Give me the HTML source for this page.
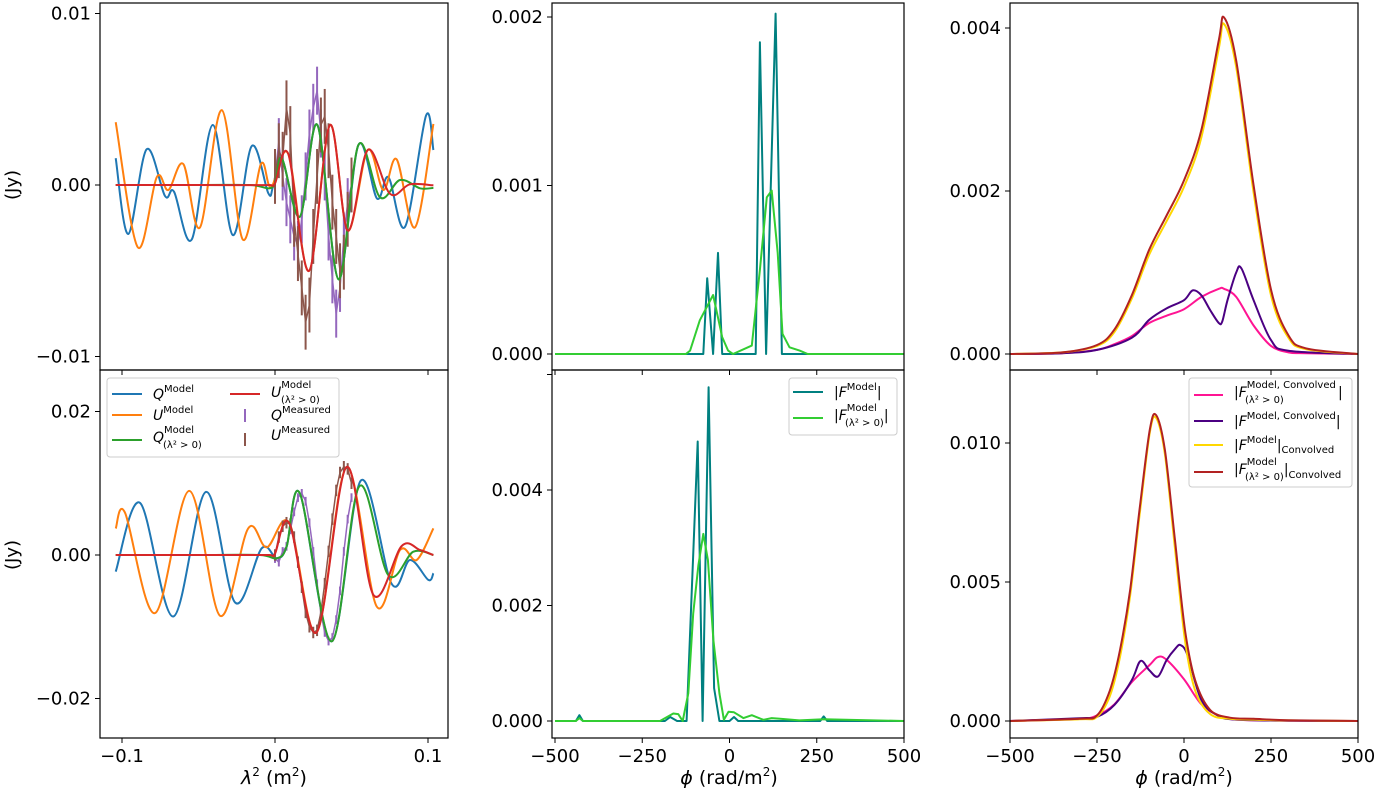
<!DOCTYPE html>
<html><head><meta charset="utf-8"><style>
body{margin:0;background:#fff;}
svg{display:block;font-family:"DejaVu Sans","Liberation Sans",sans-serif;}
</style></head><body>
<svg id="fig" width="1378" height="797" viewBox="0 0 1378 797" xmlns="http://www.w3.org/2000/svg"></svg>
<script>
// ---------- data (values in units of 1e-3 Jy) ----------
const tlQx=[-0.1041,-0.0959,-0.0839,-0.0719,-0.0660,-0.0544,-0.0407,-0.0276,-0.0152,-0.0044,-0.0013,0.0044,0.0163,0.0277,0.0415,0.0545,0.0666,0.0742,0.0850,0.0987,0.1035];
const tlQy=[1.56,-2.86,2.08,-0.64,-0.39,-3.17,3.50,-2.92,2.27,-0.48,-0.10,1.56,-1.84,3.50,-5.50,2.33,-0.78,0.45,-2.43,4.04,2.04];
const tlQ0x=[-0.1041,-0.05,-0.016,-0.0013,0.0044,0.0163,0.0277,0.0415,0.0545,0.0686,0.0817,0.0948,0.1035];
const tlQ0y=[0,0,0,-0.1,1.56,-1.84,3.50,-5.50,2.33,-0.72,0.29,-0.19,-0.17];
const tlUx=[-0.1041,-0.0897,-0.0773,-0.0697,-0.0599,-0.049,-0.0348,-0.0211,-0.0092,-0.0026,0.0087,0.0222,0.0359,0.0475,0.0606,0.0708,0.0795,0.0915,0.1035];
const tlUy=[3.66,-3.63,0.45,-0.29,1.22,-2.47,4.37,-3.17,1.22,-0.13,1.81,-5.01,3.5,-2.66,2.04,-0.29,1.5,-2.47,3.56];
const tlU0x=[-0.1041,-0.05,-0.004,0.0,0.0087,0.0222,0.0359,0.0475,0.0606,0.0752,0.0882,0.1035];
const tlU0y=[0,0,0,0.1,1.81,-5.01,3.5,-2.66,2.04,-0.52,0.04,-0.02];
const measX=[0,0.0025,0.005,0.0075,0.01,0.0125,0.015,0.0175,0.02,0.0225,0.025,0.0275,0.03,0.0325,0.035,0.0375,0.04,0.0425,0.045,0.0475,0.05];
const tlQm=[0.5,2.5,0.5,-1,-2,-3,-3.5,-2,0.5,3,4.5,5.5,3,0.5,-3,-5.5,-7.5,-6,-3,-1,0];
const tlUm=[0.5,2.0,1.5,4.5,3.0,-2,-4,-6,-8,-7,-3,0.5,3.5,4,2,-1,-3,-5,-4.5,-2,0];
const blQx=[-0.1041,-0.0882,-0.0665,-0.0451,-0.0261,-0.0087,0.0011,0.0076,0.0163,0.037,0.0562,0.0763,0.0882,0.1002,0.1035];
const blQy=[-2.32,7.26,-8.57,8.79,-6.62,0.93,-0.46,1.15,8.57,-12.04,10.4,-4.03,-0.69,-3.47,-2.54];
const blQ0x=[-0.1041,-0.05,-0.01,0.0011,0.0076,0.0163,0.037,0.0551,0.074,0.0904,0.1035];
const blQ0y=[0,0,0,-0.46,1.15,8.57,-12.04,9.58,-2.78,0.46,0];
const blUx=[-0.1041,-0.098,-0.0784,-0.056,-0.0359,-0.0175,-0.0054,0.0094,0.0272,0.0468,0.0665,0.0817,0.0926,0.1035];
const blUy=[3.7,5.87,-8.1,8.93,-8.47,3.71,1.07,4.4,-10.79,12.26,-7.18,0.69,-0.69,3.71];
const blU0x=[-0.1041,-0.05,-0.004,0.0,0.0094,0.0272,0.0468,0.0643,0.0828,0.0948,0.1035];
const blU0y=[0,0,0,0.2,4.4,-10.79,12.26,-5.56,1.25,0.69,0];
const blQm=[-0.5,-1.0,0.5,1.2,3.5,6,8,8.6,7.5,4.5,0.5,-4,-8,-10.8,-12,-11.5,-9,-5,0.5,5,8];
const blUm=[0,2.5,4.0,4.5,4.3,2.5,-1,-4.5,-8,-10,-10.8,-10.5,-8,-4,0.5,5,9,11.5,12.3,12,10];
const tmFx=[-500,-75,-64,-47,-33,-21,75,87,105,132,150,500];
const tmFy=[0,0,0.45,0,0.6,0,0,1.85,0,2.02,0,0];
const tmF0x=[-500,-125,-113,-85,-47,-21,-4,10,64,87,107,121,138,152,172,201,224,500];
const tmF0y=[0,0,0.02,0.2,0.35,0.1,0.02,0,0.05,0.5,0.93,0.97,0.6,0.12,0.04,0.02,0,0];
const bmFx=[-500,-440,-430,-420,-185,-170,-150,-123,-91,-77,-60,-44,-29,0,13,25,260,270,280,500];
const bmFy=[0,0,0.1,0,0,0.07,0,0,4.84,0,5.78,0.57,0,0,0.07,0,0,0.08,0,0];
const bmF0x=[-500,-440,-430,-420,-250,-199,-161,-147,-134,-118,-104,-89,-75,-62,-46,-29,-16,-3,13,40,64,97,121,145,200,270,500];
const bmF0y=[0,0,0.05,0,0,0,0.13,0.12,0,0.48,1.86,2.7,3.24,2.79,1.4,0.48,0.02,0.16,0.15,0.05,0.1,0.02,0.05,0.04,0.01,0.03,0];
const crX=[-500,-350,-250,-200,-150,-100,-50,0,50,100,115,150,200,250,300,350,500];
const trRed=[0,0.02,0.11,0.3,0.72,1.28,1.7,2.13,2.75,3.85,4.13,3.6,2.07,0.79,0.23,0.07,0];
const trYel=[0,0.02,0.1,0.27,0.68,1.22,1.63,2.05,2.66,3.75,4.05,3.52,1.98,0.72,0.2,0.06,0];
const trIndX=[-500,-350,-250,-150,-100,-50,0,25,50,75,100,110,125,150,165,200,250,300,500];
const trInd=[0,0.01,0.05,0.2,0.42,0.56,0.66,0.78,0.72,0.54,0.38,0.4,0.66,1.0,1.05,0.66,0.17,0.04,0];
const trPink=[0,0.01,0.05,0.12,0.22,0.38,0.47,0.55,0.7,0.8,0.8,0.7,0.35,0.1,0.02,0.01,0];
const brX=[-500,-300,-250,-213,-184,-155,-126,-98,-80,-55,-26,3,32,75,132,200,300,500];
const brRed=[0,0.08,0.2,1.1,2.55,4.7,7.8,10.5,11.0,9.75,6.5,3.27,1.47,0.4,0.12,0.08,0.03,0];
const brYel=[0,0.06,0.15,0.9,2.3,4.5,7.6,10.4,10.9,9.6,6.2,2.9,1.1,0.25,0.08,0.05,0.02,0];
const brIndX=[-500,-300,-250,-200,-150,-125,-100,-75,-50,-25,-10,10,50,100,150,300,500];
const brInd=[0,0.1,0.15,0.58,1.47,2.16,1.83,1.6,2.19,2.6,2.73,2.37,0.75,0.18,0.05,0.01,0];
const brPinkX=[-500,-300,-250,-200,-150,-100,-75,-50,0,50,100,150,300,500];
const brPink=[0,0.08,0.2,0.6,1.4,2.0,2.3,2.2,1.5,0.6,0.2,0.05,0.01,0];

// ---------- drawing ----------
const NS="http://www.w3.org/2000/svg";
const fig=document.getElementById('fig');
function mk(tag,attrs,parent){const e=document.createElementNS(NS,tag);for(const k in attrs)e.setAttribute(k,attrs[k]);(parent||fig).appendChild(e);return e;}
function smoothPath(pts){
  let d='M'+pts[0][0].toFixed(1)+','+pts[0][1].toFixed(1);
  for(let i=0;i<pts.length-1;i++){
    const p0=pts[Math.max(0,i-1)],p1=pts[i],p2=pts[i+1],p3=pts[Math.min(pts.length-1,i+2)];
    const c1=[p1[0]+(p2[0]-p0[0])/6,p1[1]+(p2[1]-p0[1])/6];
    const c2=[p2[0]-(p3[0]-p1[0])/6,p2[1]-(p3[1]-p1[1])/6];
    c1[0]=Math.min(Math.max(c1[0],p1[0]),p2[0]);c2[0]=Math.min(Math.max(c2[0],p1[0]),p2[0]);
    d+=' C'+c1[0].toFixed(1)+','+c1[1].toFixed(1)+' '+c2[0].toFixed(1)+','+c2[1].toFixed(1)+' '+p2[0].toFixed(1)+','+p2[1].toFixed(1);
  }
  return d;
}
function linePath(pts){return 'M'+pts.map(p=>p[0].toFixed(1)+','+p[1].toFixed(1)).join(' L');}
function series(xs,ys,sx,sy,color,name,smooth,w){
  const pts=xs.map((x,i)=>[sx(x),sy(ys[i])]);
  const p=mk('path',{d:smooth?smoothPath(pts):linePath(pts),fill:'none',stroke:color,'stroke-width':w||2,'stroke-linejoin':'round'});
  
  
}
function measured(xs,ys,err,sx,sy,color,name){
  const g=mk('g',{});
  
  
  xs.forEach((x,i)=>{
    const l=mk('line',{x1:sx(x),x2:sx(x),y1:sy(ys[i]-err),y2:sy(ys[i]+err),stroke:color,'stroke-width':2},g);
    
    
  });
  const pts=xs.map((x,i)=>[sx(x),sy(ys[i])]);
  mk('path',{d:linePath(pts),fill:'none',stroke:color,'stroke-width':1.5},g);
}
function frame(x0,x1,y0,y1,name){
  const r=mk('rect',{x:x0,y:y0,width:x1-x0,height:y1-y0,fill:'none',stroke:'#000','stroke-width':1.2});
  
  
}
function yticks(x0,vals,labels,sy,name){
  vals.forEach((v,i)=>{
    const y=sy(v);
    mk('line',{x1:x0-5,x2:x0,y1:y,y2:y,stroke:'#000','stroke-width':1});
    const t=mk('text',{x:x0-9,y:y+6,'text-anchor':'end','font-size':18});
    t.textContent=labels[i];
    
    
  });
}
function xticks(yb,vals,labels,sx,name,showLabels){
  vals.forEach((v,i)=>{
    const x=sx(v);
    mk('line',{x1:x,x2:x,y1:yb,y2:yb+5,stroke:'#000','stroke-width':1});
    if(showLabels){
      const t=mk('text',{x:x,y:yb+24,'text-anchor':'middle','font-size':18});
      t.textContent=labels[i];
      
      
    }
  });
}
function clip(id,x0,x1,y0,y1){const c=mk('clipPath',{id:id});mk('rect',{x:x0,y:y0,width:x1-x0,height:y1-y0},c);}
function drawIn(gg,fn){const before=fig.childNodes.length;fn();const nodes=[...fig.childNodes].slice(before);nodes.forEach(n=>gg.appendChild(n));}

const sxL=x=>275+1530*x, syTL=v=>185-17.15*v, syBL=v=>555-7.175*v;
const sxM=p=>729.5+0.349*p, syTM=v=>354-168.5*v, syBM=v=>721-57.75*v;
const sxR=p=>1184+0.348*p, syTR=v=>354-81.5*v, syBR=v=>721-27.8*v;

const C={b:'#1f77b4',o:'#ff7f0e',g:'#2ca02c',r:'#d62728',p:'#9467bd',br:'#8c564b',teal:'#008080',lime:'#32cd32',pink:'#ff1493',ind:'#4b0082',gold:'#ffd700',fire:'#b22222'};

clip('c1',100,448,3,370);
let g=mk('g',{'clip-path':'url(#c1)'});


drawIn(g,()=>{
  series(tlQx,tlQy,sxL,syTL,C.b,'q-model-line',true);
  series(tlUx,tlUy,sxL,syTL,C.o,'u-model-line',true);
  measured(measX,tlQm,1.4,sxL,syTL,C.p,'q-measured');
  measured(measX,tlUm,1.6,sxL,syTL,C.br,'u-measured');
  series(tlQ0x,tlQ0y,sxL,syTL,C.g,'q-positive-line',true);
  series(tlU0x,tlU0y,sxL,syTL,C.r,'u-positive-line',true);
});
frame(100,448,3,370,'axes-top-left');
yticks(100,[10,0,-10],['0.01','0.00','\u22120.01'],syTL,'y-tick-label');
xticks(370,[-0.1,0,0.1],[],sxL,'x-tick',false);

clip('c2',100,448,370,738);
g=mk('g',{'clip-path':'url(#c2)'});


drawIn(g,()=>{
  series(blQx,blQy,sxL,syBL,C.b,'q-model-line',true);
  series(blUx,blUy,sxL,syBL,C.o,'u-model-line',true);
  measured(measX,blQm,0.6,sxL,syBL,C.p,'q-measured');
  measured(measX,blUm,0.8,sxL,syBL,C.br,'u-measured');
  series(blQ0x,blQ0y,sxL,syBL,C.g,'q-positive-line',true);
  series(blU0x,blU0y,sxL,syBL,C.r,'u-positive-line',true);
});
frame(100,448,370,738,'axes-bottom-left');
yticks(100,[20,0,-20],['0.02','0.00','\u22120.02'],syBL,'y-tick-label');
xticks(738,[-0.1,0,0.1],['\u22120.1','0.0','0.1'],sxL,'x-tick-label',true);

clip('c3',552,904,3,370);
g=mk('g',{'clip-path':'url(#c3)'});


drawIn(g,()=>{
  series(tmFx,tmFy,sxM,syTM,C.teal,'f-model-line',false);
  series(tmF0x,tmF0y,sxM,syTM,C.lime,'f-positive-line',false);
});
frame(552,904,3,370,'axes-top-middle');
yticks(552,[0,1,2],['0.000','0.001','0.002'],syTM,'y-tick-label');
xticks(370,[-500,-250,0,250,500],[],sxM,'x-tick',false);

clip('c4',552,904,370,738);
g=mk('g',{'clip-path':'url(#c4)'});


drawIn(g,()=>{
  series(bmFx,bmFy,sxM,syBM,C.teal,'f-model-line',false);
  series(bmF0x,bmF0y,sxM,syBM,C.lime,'f-positive-line',false);
});
frame(552,904,370,738,'axes-bottom-middle');
yticks(552,[0,2,4,6],['0.000','0.002','0.004',''],syBM,'y-tick-label');
xticks(738,[-500,-250,0,250,500],['\u2212500','\u2212250','0','250','500'],sxM,'x-tick-label',true);

clip('c5',1010,1358,3,370);
g=mk('g',{'clip-path':'url(#c5)'});


drawIn(g,()=>{
  series(crX,trPink,sxR,syTR,C.pink,'f-positive-convolved-line',true);
  series(trIndX,trInd,sxR,syTR,C.ind,'f-model-convolved-line',true);
  series(crX,trYel,sxR,syTR,C.gold,'f-model-then-convolved-line',true);
  series(crX,trRed,sxR,syTR,C.fire,'f-positive-then-convolved-line',true);
});
frame(1010,1358,3,370,'axes-top-right');
yticks(1010,[0,2,4],['0.000','0.002','0.004'],syTR,'y-tick-label');
xticks(370,[-500,-250,0,250,500],[],sxR,'x-tick',false);

clip('c6',1010,1358,370,738);
g=mk('g',{'clip-path':'url(#c6)'});


drawIn(g,()=>{
  series(brPinkX,brPink,sxR,syBR,C.pink,'f-positive-convolved-line',true);
  series(brIndX,brInd,sxR,syBR,C.ind,'f-model-convolved-line',true);
  series(brX,brYel,sxR,syBR,C.gold,'f-model-then-convolved-line',true);
  series(brX,brRed,sxR,syBR,C.fire,'f-positive-then-convolved-line',true);
});
frame(1010,1358,370,738,'axes-bottom-right');
yticks(1010,[0,5,10],['0.000','0.005','0.010'],syBR,'y-tick-label');
xticks(738,[-500,-250,0,250,500],['\u2212500','\u2212250','0','250','500'],sxR,'x-tick-label',true);
</script>
<svg style="position:absolute;left:0;top:0" width="1378" height="797" xmlns="http://www.w3.org/2000/svg" font-family="DejaVu Sans, Liberation Sans, sans-serif">
  <text x="18" y="185" font-size="18" text-anchor="middle" transform="rotate(-90 18 185)">(Jy)</text>
  <text x="18" y="555" font-size="18" text-anchor="middle" transform="rotate(-90 18 555)">(Jy)</text>
  <text x="274" y="784" font-size="19" text-anchor="middle"><tspan font-style="italic">λ</tspan><tspan font-size="12" dy="-8">2</tspan><tspan dy="8"> (m</tspan><tspan font-size="12" dy="-8">2</tspan><tspan dy="8">)</tspan></text>
  <text x="729" y="784" font-size="19" text-anchor="middle"><tspan font-style="italic">ϕ</tspan> (rad/m<tspan font-size="12" dy="-8">2</tspan><tspan dy="8">)</tspan></text>
  <text x="1184" y="784" font-size="19" text-anchor="middle"><tspan font-style="italic">ϕ</tspan> (rad/m<tspan font-size="12" dy="-8">2</tspan><tspan dy="8">)</tspan></text>

  <g font-size="14">
    <rect x="107" y="378" width="232" height="79" rx="3" fill="#fff" fill-opacity="0.85" stroke="#ccc"/>
    <g><line x1="112" x2="142" y1="394" y2="394" stroke="#1f77b4" stroke-width="2"/><text x="153" y="399"><tspan font-style="italic">Q</tspan><tspan font-size="10" dy="-7">Model</tspan></text></g>
    <g><line x1="112" x2="142" y1="415" y2="415" stroke="#ff7f0e" stroke-width="2"/><text x="153" y="420"><tspan font-style="italic">U</tspan><tspan font-size="10" dy="-7">Model</tspan></text></g>
    <g><line x1="112" x2="142" y1="440" y2="440" stroke="#2ca02c" stroke-width="2"/><text x="153" y="442"><tspan font-style="italic">Q</tspan><tspan font-size="10" dy="-9">Model</tspan><tspan font-size="10" x="163" dy="15">(λ² &gt; 0)</tspan></text></g>
    <g><line x1="230" x2="260" y1="394" y2="394" stroke="#d62728" stroke-width="2"/><text x="271" y="397"><tspan font-style="italic">U</tspan><tspan font-size="10" dy="-9">Model</tspan><tspan font-size="10" x="281" dy="15">(λ² &gt; 0)</tspan></text></g>
    <g><line x1="245" x2="245" y1="409" y2="422" stroke="#9467bd" stroke-width="2"/><text x="271" y="420"><tspan font-style="italic">Q</tspan><tspan font-size="10" dy="-7">Measured</tspan></text></g>
    <g><line x1="245" x2="245" y1="433" y2="446" stroke="#8c564b" stroke-width="2"/><text x="271" y="440"><tspan font-style="italic">U</tspan><tspan font-size="10" dy="-7">Measured</tspan></text></g>
  </g>

  <g font-size="14">
    <rect x="789" y="378" width="108" height="57" rx="3" fill="#fff" fill-opacity="0.85" stroke="#ccc"/>
    <g><line x1="793" x2="823" y1="392" y2="392" stroke="#008080" stroke-width="2"/><text x="834" y="397">|<tspan font-style="italic">F</tspan><tspan font-size="10" dy="-7">Model</tspan><tspan dy="7">|</tspan></text></g>
    <g><line x1="793" x2="823" y1="418" y2="418" stroke="#32cd32" stroke-width="2"/><text x="834" y="420">|<tspan font-style="italic">F</tspan><tspan font-size="10" dy="-9">Model</tspan><tspan font-size="10" x="845" dy="15">(λ² &gt; 0)</tspan><tspan dy="-6">|</tspan></text></g>
  </g>

  <g font-size="14">
    <rect x="1189" y="378" width="163" height="109" rx="3" fill="#fff" fill-opacity="0.85" stroke="#ccc"/>
    <g><line x1="1194" x2="1223" y1="395" y2="395" stroke="#ff1493" stroke-width="2"/><text x="1234" y="397">|<tspan font-style="italic">F</tspan><tspan font-size="10" dy="-9">Model, Convolved</tspan><tspan font-size="10" x="1245" dy="15">(λ² &gt; 0)</tspan><tspan x="1338" dy="-6">|</tspan></text></g>
    <g><line x1="1194" x2="1223" y1="421" y2="421" stroke="#4b0082" stroke-width="2"/><text x="1234" y="426">|<tspan font-style="italic">F</tspan><tspan font-size="10" dy="-7">Model, Convolved</tspan><tspan dy="7">|</tspan></text></g>
    <g><line x1="1194" x2="1223" y1="445" y2="445" stroke="#ffd700" stroke-width="2"/><text x="1234" y="450">|<tspan font-style="italic">F</tspan><tspan font-size="10" dy="-7">Model</tspan><tspan dy="7">|</tspan><tspan font-size="10" dy="3">Convolved</tspan></text></g>
    <g><line x1="1194" x2="1223" y1="472" y2="472" stroke="#b22222" stroke-width="2"/><text x="1234" y="474">|<tspan font-style="italic">F</tspan><tspan font-size="10" dy="-9">Model</tspan><tspan font-size="10" x="1245" dy="15">(λ² &gt; 0)</tspan><tspan dy="-6">|</tspan><tspan font-size="10" dy="4">Convolved</tspan></text></g>
  </g>
</svg>
</body></html>
